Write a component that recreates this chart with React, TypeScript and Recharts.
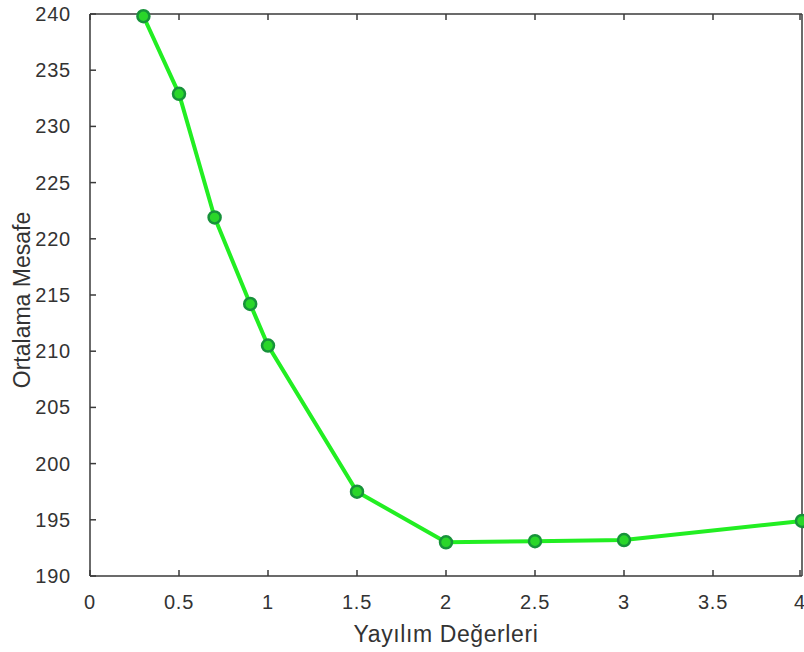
import React from 'react';
import { LineChart, Line, XAxis, YAxis, Label } from 'recharts';

const spreadValues = [0.3, 0.5, 0.7, 0.9, 1, 1.5, 2, 2.5, 3, 4];
const meanDistance = [239.8, 232.9, 221.9, 214.2, 210.5, 197.5, 193.0, 193.1, 193.2, 194.9];
const xTicks = [0, 0.5, 1, 1.5, 2, 2.5, 3, 3.5, 4];
const yTicks = [190, 195, 200, 205, 210, 215, 220, 225, 230, 235, 240];

const chartData = spreadValues.map((x, i) => ({ x, y: meanDistance[i] }));

const axisColor = '#3a3a3a';
const font = '"Liberation Sans", Arial, sans-serif';
const TICK = 6;
const GAP = 18;

// MATLAB style: tick marks point into the plot, label sits outside
const BottomTick = (props: any) => {
  const { x, y, payload } = props;
  const axisY = y - GAP;
  return (
    <g>
      <line x1={x} x2={x} y1={axisY} y2={axisY - TICK} stroke={axisColor} strokeWidth={1.5} />
      <text x={x} y={y + 15} textAnchor="middle" fill="#333" fontSize={20} fontFamily={font} letterSpacing={0.8}>
        {payload.value}
      </text>
    </g>
  );
};

const LeftTick = (props: any) => {
  const { x, y, payload } = props;
  const axisX = x + GAP;
  return (
    <g>
      <line x1={axisX} x2={axisX + TICK} y1={y} y2={y} stroke={axisColor} strokeWidth={1.5} />
      <text x={x - 1} y={y + 7} textAnchor="end" fill="#333" fontSize={20} fontFamily={font} letterSpacing={0.8}>
        {payload.value}
      </text>
    </g>
  );
};

const TopTick = (props: any) => {
  const { x, y } = props;
  const axisY = y + GAP;
  return <line x1={x} x2={x} y1={axisY} y2={axisY + TICK} stroke={axisColor} strokeWidth={1.5} />;
};

const RightTick = (props: any) => {
  const { x, y } = props;
  const axisX = x - GAP;
  return <line x1={axisX} x2={axisX - TICK} y1={y} y2={y} stroke={axisColor} strokeWidth={1.5} />;
};

export default function App() {
  return (
    <div style={{ position: 'absolute', left: 0, top: 0, background: '#fff' }}>
      <LineChart width={804} height={652} data={chartData} margin={{ top: 13, right: 1, bottom: 0, left: 0 }}>
        <XAxis
          dataKey="x"
          type="number"
          domain={[0, 4]}
          ticks={xTicks}
          height={76}
          tickLine={false}
          tickSize={0}
          tickMargin={GAP}
          stroke={axisColor}
          strokeWidth={1.5}
          tick={<BottomTick />}
        >
          <Label value="Yayılım Değerleri" position="center" dy={20} style={{ fill: '#333', fontSize: 23, fontFamily: font, letterSpacing: 0.6 }} />
        </XAxis>
        <XAxis
          xAxisId="top"
          dataKey="x"
          type="number"
          orientation="top"
          domain={[0, 4]}
          ticks={xTicks}
          height={1}
          tickLine={false}
          tickSize={0}
          tickMargin={GAP}
          stroke={axisColor}
          strokeWidth={1.5}
          tick={<TopTick />}
        />
        <YAxis
          type="number"
          domain={[190, 240]}
          ticks={yTicks}
          width={90}
          tickLine={false}
          tickSize={0}
          tickMargin={GAP}
          stroke={axisColor}
          strokeWidth={1.5}
          tick={<LeftTick />}
        >
          <Label value="Ortalama Mesafe" angle={-90} position="center" dx={-23} dy={5} style={{ fill: '#333', fontSize: 23, fontFamily: font }} />
        </YAxis>
        <YAxis
          yAxisId="right"
          type="number"
          orientation="right"
          domain={[190, 240]}
          ticks={yTicks}
          width={1}
          tickLine={false}
          tickSize={0}
          tickMargin={GAP}
          stroke={axisColor}
          strokeWidth={1.5}
          tick={<RightTick />}
        />
        <Line
          dataKey="y"
          stroke="#22ee22"
          strokeWidth={4}
          dot={{ r: 6, fill: '#2ad62a', stroke: '#17923a', strokeWidth: 2.5 }}
          isAnimationActive={false}
        />
      </LineChart>
    </div>
  );
}
